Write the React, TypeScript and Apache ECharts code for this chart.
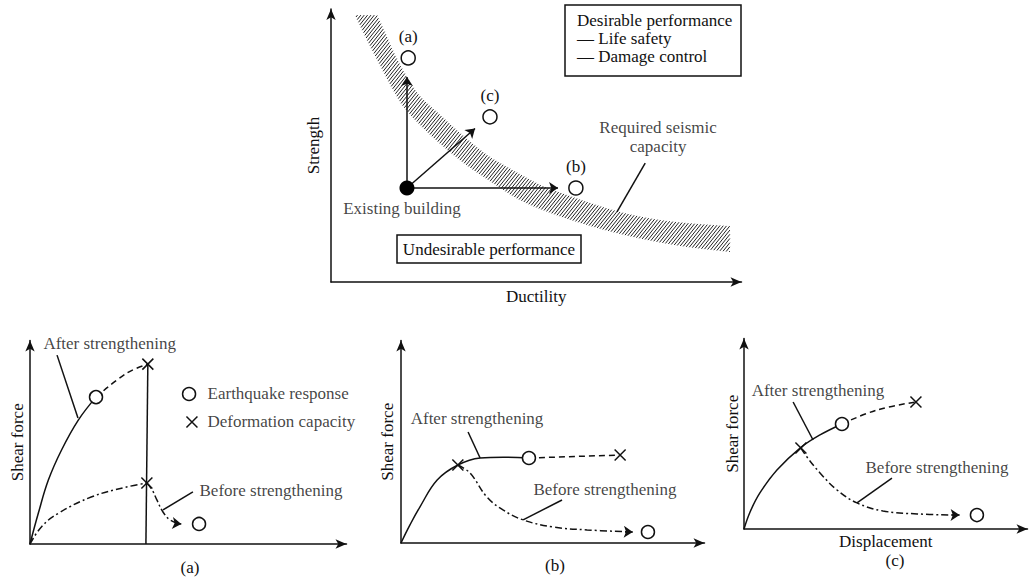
import React, { useEffect, useRef } from "react";
import * as echarts from "echarts";

const FONT = "'Liberation Serif', 'Times New Roman', Times, serif";
const INK = "#111111";
const FS = 17;

// ---------- Top diagram: strength vs ductility (0-100 units) ----------
const bandInner = [[5.8, 96], [8.7, 87], [11.8, 78], [15.4, 68], [18.3, 61.5], [24.6, 52], [31.8, 43], [37.6, 37], [45.5, 29.5], [53.5, 24.5], [61.7, 20.5], [69.6, 17.3], [77.6, 14.7], [85.8, 12.6], [96.1, 10.8]];
const bandOuter = [[11.1, 96], [13.3, 88.8], [15.4, 81.7], [18.3, 73.7], [21.4, 66.9], [26.3, 60.1], [31.6, 52.9], [37.6, 45.7], [42.4, 41.4], [49.9, 35.3], [53.5, 33.1], [61.7, 28.8], [69.6, 25.2], [77.6, 22.7], [85.8, 21.2], [96.1, 20.1]];
const existingBuilding = [18.3, 33.8];
const targetNames = ["(a)", "(c)", "(b)"];
const targetPoints = [[18.6, 80.6], [38.3, 59.4], [59.0, 33.8]];
const targetArrowEnds = [[18.3, 73.7], [34.7, 55.2], [54.7, 33.8]];
const capacityLeader = [[75.7, 42.8], [68.9, 25.2]];
const capacityLabelPos = [78.8, 52.3];
const existingLabelPos = [17.1, 26.6];

// ---------- Panel (a) ----------
const aAfterSolid = [[0, 0], [2.6, 14.8], [5.7, 30.6], [9.8, 45], [15, 59.3], [20.5, 70.3]];
const aAfterDash = [[20.5, 70.3], [30.1, 81.8], [36.6, 86.1]];
const aCapacityLine = [[36.6, 86.1], [36.0, 0]];
const aBeforeDashDot = [[0, 0], [3.6, 8.3], [8.8, 14.7], [19.2, 22.6], [29.5, 27.1], [36.3, 29.2]];
const aBeforeDrop = [[36.3, 29.2], [37.9, 26], [39.4, 21.1], [41.3, 15.3], [43.5, 11.5], [46.0, 9.8]];
const aArrow = [[45.0, 9.9], [47.0, 9.6]];
const aResponse = [[20.5, 70.3], [52.5, 9.6]];
const aCapacity = [[36.6, 86.1], [36.3, 29.2]];
const aLeaders = [[[8.4, 90.4], [14.9, 60.3]], [[50.6, 24.9], [41.3, 16.3]]];
const aLegendCircle = [49.4, 71.8];
const aLegendCross = [50.3, 58.4];
const aAfterLabel = [4.0, 96.2];
const aBeforeLabel = [52.5, 25.8];

// ---------- Panel (b) ----------
const bAfterSolid = [[0, 0], [2.9, 8.7], [6.1, 17.3], [11.7, 30.3], [18.4, 37.5], [25.6, 40.9], [33.0, 41.3], [41.4, 40.9]];
const bAfterDash = [[41.4, 40.9], [70.9, 42.3]];
const bBeforeDashDot = [[18.4, 37.5], [22.3, 33.7], [27.8, 22.1], [33, 15.9], [39.5, 11.1], [49.2, 7.7], [60.2, 6.3], [73.5, 5.4]];
const bArrow = [[72.5, 5.4], [75.0, 5.3]];
const bResponse = [[41.4, 40.9], [79.9, 5.3]];
const bCapacity = [[18.4, 37.5], [70.9, 42.3]];
const bLeaders = [[[21.7, 53.4], [25.6, 40.9]], [[52.1, 20.7], [39.5, 11.1]]];
const bAfterLabel = [24.6, 60.1];
const bBeforeLabel = [66.0, 25.5];

// ---------- Panel (c) ----------
const cAfterSolid = [[0, 0], [2.1, 8.7], [5.5, 18.4], [11.4, 30.1], [19.4, 41.3], [26.3, 48], [33.9, 53.6]];
const cAfterDash = [[33.9, 53.6], [46, 60.7], [59.5, 64.8]];
const cBeforeDashDot = [[19.7, 41.3], [21.8, 36.7], [26.3, 28.6], [32.2, 19.9], [39.1, 13.3], [48.1, 9.2], [59.9, 7.7], [73.0, 7.1]];
const cArrow = [[72.0, 7.15], [74.6, 7.1]];
const cResponse = [[33.9, 53.6], [80.6, 7.1]];
const cCapacity = [[19.7, 41.3], [59.5, 64.8]];
const cLeaders = [[[17, 64.8], [23.9, 45.4]], [[51.2, 26], [39.1, 13.3]]];
const cAfterLabel = [25.6, 70.9];
const cBeforeLabel = [66.8, 31.6];

const DASH = [6, 4];
const DASHDOT = [7, 3, 2, 3];
const CROSS = "path://M0,0L10,10M10,0L0,10";

function smoothPath(pts: number[][], steps: number) {
  const out: number[][] = [];
  for (let i = 0; i < pts.length - 1; i++) {
    const p0 = pts[Math.max(0, i - 1)], p1 = pts[i], p2 = pts[i + 1], p3 = pts[Math.min(pts.length - 1, i + 2)];
    for (let s = 0; s < steps; s++) {
      const t = s / steps, t2 = t * t, t3 = t2 * t;
      const f = (a: number, b: number, c: number, d: number) =>
        0.5 * (2 * b + (-a + c) * t + (2 * a - 5 * b + 4 * c - d) * t2 + (-a + 3 * b - 3 * c + d) * t3);
      out.push([f(p0[0], p1[0], p2[0], p3[0]), f(p0[1], p1[1], p2[1], p3[1])]);
    }
  }
  out.push(pts[pts.length - 1]);
  return out;
}

function hatchLines(poly: number[][], slope: number, step: number) {
  let minC = Infinity, maxC = -Infinity;
  poly.forEach(([x, y]) => {
    const c = slope * x + y;
    minC = Math.min(minC, c);
    maxC = Math.max(maxC, c);
  });
  const segs: number[][] = [];
  for (let c = Math.ceil(minC / step) * step; c <= maxC; c += step) {
    const xs: number[] = [];
    for (let i = 0; i < poly.length; i++) {
      const [x1, y1] = poly[i];
      const [x2, y2] = poly[(i + 1) % poly.length];
      const s1 = slope * x1 + y1 - c, s2 = slope * x2 + y2 - c;
      if ((s1 <= 0 && s2 > 0) || (s1 > 0 && s2 <= 0)) {
        const t = s1 / (s1 - s2);
        xs.push(x1 + t * (x2 - x1));
      }
    }
    xs.sort((a, b) => a - b);
    for (let k = 0; k + 1 < xs.length; k += 2) {
      segs.push([xs[k], c - slope * xs[k], xs[k + 1], c - slope * xs[k + 1]]);
    }
  }
  return segs;
}

const textStyle = { fontFamily: FONT, fontSize: FS, color: INK };

function axisPair(grid: number, xmax: number, ymax: number, xName: string, xGap: number, yName: string, yGap: number) {
  const line = { show: true, onZero: false, symbol: ["none", "arrow"], symbolSize: [7, 11], lineStyle: { color: INK, width: 1.5 } };
  const common = { gridIndex: grid, type: "value", min: 0, axisTick: { show: false }, axisLabel: { show: false }, splitLine: { show: false }, axisLine: line, nameLocation: "middle", nameTextStyle: textStyle, silent: true };
  return {
    x: { ...common, max: xmax, name: xName, nameGap: xGap },
    y: { ...common, max: ymax, name: yName, nameGap: yGap, nameRotate: 90 },
  };
}

function lineS(grid: number, data: number[][], type: any, smooth: number | boolean = 0.4, z = 2) {
  return { type: "line", xAxisIndex: grid, yAxisIndex: grid, data, smooth, symbol: "none", showSymbol: false, clip: false, silent: true, z, lineStyle: { color: INK, width: 1.5, type, opacity: 1 }, emphasis: { disabled: true } };
}

function arrowS(grid: number, coords: number[][][], type: any, size: number[]) {
  return { type: "lines", coordinateSystem: "cartesian2d", xAxisIndex: grid, yAxisIndex: grid, symbol: ["none", "arrow"], symbolSize: size, silent: true, z: 3, lineStyle: { color: INK, width: 1.5, type, opacity: 1 }, data: coords.map((c) => ({ coords: c })) };
}

function circlesS(grid: number, data: any[], size: number) {
  return { type: "scatter", xAxisIndex: grid, yAxisIndex: grid, data, symbol: "circle", symbolSize: size, clip: false, silent: true, z: 5, itemStyle: { color: "#fff", borderColor: INK, borderWidth: 1.5, opacity: 1 }, emphasis: { disabled: true } };
}

function crossS(grid: number, data: any[], size: number) {
  return { type: "scatter", xAxisIndex: grid, yAxisIndex: grid, data, symbol: CROSS, symbolSize: size, clip: false, silent: true, z: 5, itemStyle: { color: "none", borderColor: INK, borderWidth: 1.5, opacity: 1 }, emphasis: { disabled: true } };
}

function textS(grid: number, items: { name: string; value: number[] }[], position: string, extra: any = {}) {
  return {
    type: "scatter", xAxisIndex: grid, yAxisIndex: grid, data: items, symbolSize: 1, clip: false, silent: true, z: 6,
    itemStyle: { color: "transparent" },
    label: { show: true, formatter: "{b}", position, distance: 0, ...textStyle, lineHeight: 19, ...extra },
    emphasis: { disabled: true },
  };
}

export default function App() {
  const ref = useRef<HTMLDivElement>(null);
  useEffect(() => {
    document.body.style.margin = "0";
    const chart = echarts.init(ref.current!, undefined, { renderer: "svg" });

    const top = axisPair(0, 98.9, 98.2, "Ductility", 6, "Strength", 9);
    const pa = axisPair(1, 98.3, 97.4, "", 10, "Shear force", 4);
    const pb = axisPair(2, 98.2, 97.4, "", 10, "Shear force", 5);
    const pc = axisPair(3, 98.1, 97.2, "Displacement", 4, "Shear force", 3);

    const series: any[] = [
      // band of required seismic capacity
      {
        type: "custom", xAxisIndex: 0, yAxisIndex: 0, data: [[0, 0]], silent: true, z: 1, clip: false,
        renderItem: (_p: any, api: any) => {
          const outer = smoothPath(bandOuter.map((p) => api.coord(p)), 6);
          const inner = smoothPath(bandInner.map((p) => api.coord(p)), 6);
          const poly = outer.concat(inner.slice().reverse());
          const segs = hatchLines(poly, 1.25, 4.2);
          return {
            type: "group",
            children: segs.map((s) => ({ type: "line", shape: { x1: s[0], y1: s[1], x2: s[2], y2: s[3] }, style: { stroke: "#222", lineWidth: 1 } })),
          };
        },
      },
      arrowS(0, targetArrowEnds.map((e) => [existingBuilding, e]), "solid", [7, 9]),
      { type: "scatter", xAxisIndex: 0, yAxisIndex: 0, data: [{ name: "Existing building", value: existingBuilding }], symbolSize: 15, silent: true, z: 5, itemStyle: { color: "#000", opacity: 1 }, emphasis: { disabled: true } },
      {
        ...circlesS(0, targetNames.map((n, i) => ({ name: n, value: targetPoints[i] })), 14),
        label: { show: true, formatter: "{b}", position: "top", distance: 5, ...textStyle },
      },
      textS(0, [{ name: "Existing building", value: existingLabelPos }], "inside"),
      lineS(0, capacityLeader, "solid", false),
      textS(0, [{ name: "Required seismic\ncapacity", value: capacityLabelPos }], "inside", { align: "center" }),

      // panel (a)
      lineS(1, aAfterSolid, "solid"),
      lineS(1, aAfterDash, DASH),
      lineS(1, aCapacityLine, "solid", false),
      lineS(1, aBeforeDashDot, DASHDOT),
      lineS(1, aBeforeDrop, DASHDOT),
      arrowS(1, [aArrow], "solid", [7, 9]),
      circlesS(1, aResponse, 13),
      crossS(1, aCapacity, 11),
      lineS(1, aLeaders[0], "solid", false),
      lineS(1, aLeaders[1], "solid", false),
      circlesS(1, [aLegendCircle], 13),
      crossS(1, [aLegendCross], 11),
      textS(1, [{ name: "Earthquake response", value: aLegendCircle }], "right", { distance: 18 }),
      textS(1, [{ name: "Deformation capacity", value: aLegendCross }], "right", { distance: 15 }),
      textS(1, [{ name: "After strengthening", value: aAfterLabel }, { name: "Before strengthening", value: aBeforeLabel }], "right"),

      // panel (b)
      lineS(2, bAfterSolid, "solid"),
      lineS(2, bAfterDash, DASH, false),
      lineS(2, bBeforeDashDot, DASHDOT),
      arrowS(2, [bArrow], "solid", [7, 9]),
      circlesS(2, bResponse, 13),
      crossS(2, bCapacity, 11),
      lineS(2, bLeaders[0], "solid", false),
      lineS(2, bLeaders[1], "solid", false),
      textS(2, [{ name: "After strengthening", value: bAfterLabel }, { name: "Before strengthening", value: bBeforeLabel }], "inside"),

      // panel (c)
      lineS(3, cAfterSolid, "solid"),
      lineS(3, cAfterDash, DASH),
      lineS(3, cBeforeDashDot, DASHDOT),
      arrowS(3, [cArrow], "solid", [7, 9]),
      circlesS(3, cResponse, 13),
      crossS(3, cCapacity, 11),
      lineS(3, cLeaders[0], "solid", false),
      lineS(3, cLeaders[1], "solid", false),
      textS(3, [{ name: "After strengthening", value: cAfterLabel }, { name: "Before strengthening", value: cBeforeLabel }], "inside"),
    ];

    const gText = (text: string, x: number, y: number, align = "left") => ({
      type: "text", x, y, silent: true, z: 10,
      style: { text, fontFamily: FONT, fontSize: FS, fill: INK, align, verticalAlign: "middle" },
    });

    chart.setOption({
      animation: false,
      backgroundColor: "#fff",
      grid: [
        { left: 331, top: 9, width: 410.5, height: 273 },
        { left: 30, top: 340.5, width: 316.5, height: 203.5 },
        { left: 401, top: 340.5, width: 303.5, height: 202.5 },
        { left: 744, top: 338.5, width: 283.5, height: 190.5 },
      ],
      xAxis: [top.x, pa.x, pb.x, pc.x],
      yAxis: [top.y, pa.y, pb.y, pc.y],
      series,
      graphic: [
        { type: "rect", z: 9, silent: true, shape: { x: 565, y: 5, width: 176, height: 71 }, style: { fill: "#fff", stroke: INK, lineWidth: 1.5 } },
        gText("Desirable performance", 577, 20),
        gText("— Life safety", 577, 38),
        gText("— Damage control", 577, 56),
        { type: "rect", z: 9, silent: true, shape: { x: 397, y: 235, width: 184, height: 28 }, style: { fill: "#fff", stroke: INK, lineWidth: 1.5 } },
        gText("Undesirable performance", 489, 249, "center"),
        gText("(a)", 190, 567, "center"),
        gText("(b)", 555, 565, "center"),
        gText("(c)", 895, 560, "center"),
      ],
    });
    return () => chart.dispose();
  }, []);
  return <div ref={ref} style={{ width: 1035, height: 582 }} />;
}
